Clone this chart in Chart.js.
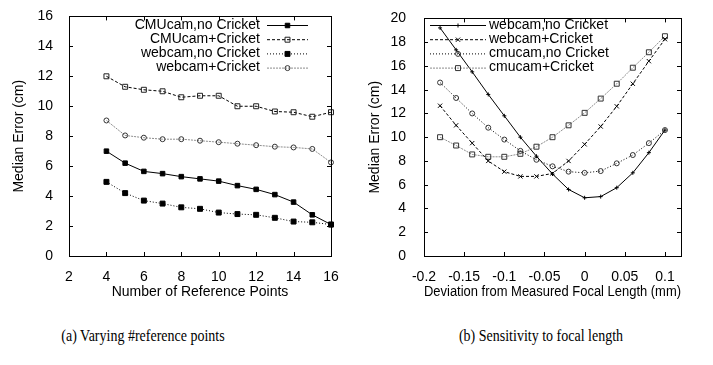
<!DOCTYPE html>
<html>
<head>
<meta charset="utf-8">
<script src="https://cdn.jsdelivr.net/npm/chart.js@4.4.1/dist/chart.umd.min.js"></script>
<style>
  html, body { margin: 0; padding: 0; background: #fff; }
  body { width: 713px; height: 365px; position: relative; overflow: hidden; }
  .wrap { position: absolute; top: 0; }
  .cap { position: absolute; top: 329px; font-family: 'Liberation Serif', 'Times New Roman', serif; font-size: 14px; color: #000; white-space: nowrap; transform: translateX(-50%) scaleY(1.12); }
</style>
</head>
<body>
<div class="wrap" style="left:0px;width:356px;height:310px;"><canvas id="c1" width="356" height="310"></canvas></div>
<div class="wrap" style="left:356px;width:357px;height:310px;"><canvas id="c2" width="357" height="310"></canvas></div>
<div class="cap" style="left:143px;">(a) Varying #reference points</div>
<div class="cap" style="left:541px;">(b) Sensitivity to focal length</div>
<script>
// ---- Data: chart (a) ----
const refPoints = [4, 5, 6, 7, 8, 9, 10, 11, 12, 13, 14, 15, 16];
const cmuNoCricket = [7.0, 6.2, 5.65, 5.5, 5.3, 5.15, 5.0, 4.7, 4.45, 4.1, 3.6, 2.75, 2.1];
const cmuCricket = [12.0, 11.3, 11.1, 11.0, 10.6, 10.7, 10.7, 10.0, 10.0, 9.65, 9.6, 9.3, 9.6];
const webNoCricket = [4.95, 4.2, 3.7, 3.5, 3.25, 3.15, 2.9, 2.8, 2.75, 2.55, 2.3, 2.25, 2.1];
const webCricket = [9.05, 8.05, 7.9, 7.8, 7.8, 7.7, 7.6, 7.5, 7.4, 7.3, 7.25, 7.15, 6.25];
const aXTicks = [2, 4, 6, 8, 10, 12, 14, 16];
const aYTicks = [0, 2, 4, 6, 8, 10, 12, 14, 16];

// ---- Data: chart (b) ----
const focalDev = [-0.18, -0.16, -0.14, -0.12, -0.10, -0.08, -0.06, -0.04, -0.02, 0, 0.02, 0.04, 0.06, 0.08, 0.10];
const fWebNoCricket = [19.2, 17.35, 15.5, 13.6, 11.8, 10.0, 8.4, 6.9, 5.6, 4.9, 5.0, 5.75, 7.0, 8.7, 10.6];
const fWebCricket = [12.65, 11.0, 9.5, 8.0, 7.1, 6.7, 6.7, 6.95, 8.0, 9.4, 10.9, 12.6, 14.5, 16.4, 18.25];
const fCmuNoCricket = [14.6, 13.3, 12.0, 10.8, 9.8, 8.85, 8.1, 7.55, 7.1, 7.0, 7.15, 7.8, 8.5, 9.5, 10.6];
const fCmuCricket = [10.0, 9.3, 8.55, 8.35, 8.35, 8.6, 9.2, 10.0, 11.0, 12.05, 13.25, 14.5, 15.85, 17.15, 18.5];
const bXTicks = [-0.2, -0.15, -0.1, -0.05, 0, 0.05, 0.1];
const bYTicks = [0, 2, 4, 6, 8, 10, 12, 14, 16, 18, 20];

Chart.defaults.font.family = "'Liberation Sans', Arial, Helvetica, sans-serif";
Chart.defaults.font.size = 14;
Chart.defaults.color = '#000';

function pts(xs, ys) { return xs.map((x, i) => ({ x: x, y: ys[i] })); }

// frame + inward ticks
const framePlugin = {
  id: 'frame',
  afterDatasetsDraw(chart) {
    const { ctx, chartArea: a, scales } = chart;
    ctx.save();
    ctx.strokeStyle = '#000';
    ctx.lineWidth = 1;
    ctx.setLineDash([]);
    ctx.strokeRect(Math.round(a.left) + 0.5, Math.round(a.top) + 0.5, Math.round(a.right - a.left), Math.round(a.bottom - a.top));
    const L = 4;
    ctx.beginPath();
    scales.x.ticks.forEach(t => {
      const px = Math.round(scales.x.getPixelForValue(t.value)) + 0.5;
      ctx.moveTo(px, a.bottom); ctx.lineTo(px, a.bottom - L);
      ctx.moveTo(px, a.top); ctx.lineTo(px, a.top + L);
    });
    scales.y.ticks.forEach(t => {
      const py = Math.round(scales.y.getPixelForValue(t.value)) + 0.5;
      ctx.moveTo(a.left, py); ctx.lineTo(a.left + L, py);
      ctx.moveTo(a.right, py); ctx.lineTo(a.right - L, py);
    });
    ctx.stroke();
    ctx.restore();
  }
};

// gnuplot-style legend
const keyPlugin = {
  id: 'gkey',
  afterDatasetsDraw(chart, args, opts) {
    const { ctx } = chart;
    ctx.save();
    ctx.font = "14px 'Liberation Sans', Arial, sans-serif";
    ctx.textBaseline = 'middle';
    chart.data.datasets.forEach((ds, i) => {
      const y = opts.y0 + i * opts.dy;
      ctx.fillStyle = '#000';
      ctx.textAlign = opts.textAlign;
      ctx.fillText(ds.label, opts.textX, y);
      ctx.strokeStyle = ds.borderColor;
      ctx.lineWidth = ds.borderWidth;
      ctx.setLineDash(ds.borderDash || []);
      ctx.beginPath();
      ctx.moveTo(opts.lineX0, y + 0.5); ctx.lineTo(opts.lineX1, y + 0.5);
      ctx.stroke();
      ctx.setLineDash([]);
      ctx.strokeStyle = ds.pointBorderColor;
      ctx.fillStyle = ds.pointBackgroundColor;
      ctx.lineWidth = 1;
      Chart.helpers.drawPoint(ctx, { pointStyle: ds.pointStyle, radius: ds.pointRadius, rotation: 0, borderWidth: 1 }, (opts.lineX0 + opts.lineX1) / 2, y + 0.5);
    });
    ctx.restore();
  }
};

function mkScales(xmin, xmax, ymin, ymax, xTicks, yTicks, xTitle, yTitle, yW, yPad, fmt) {
  return {
    x: {
      type: 'linear', min: xmin, max: xmax,
      grid: { display: false }, border: { display: false },
      afterBuildTicks: s => { s.ticks = xTicks.map(v => ({ value: v })); },
      afterFit: s => { s.height = 54; },
      ticks: { padding: 5, autoSkip: false, maxRotation: 0, callback: fmt },
      title: { display: true, text: xTitle, padding: { top: 0, bottom: 9.6 }, font: { size: 14 } }
    },
    y: {
      type: 'linear', min: ymin, max: ymax,
      grid: { display: false }, border: { display: false },
      afterBuildTicks: s => { s.ticks = yTicks.map(v => ({ value: v })); },
      afterFit: s => { s.width = yW; },
      ticks: { padding: yPad },
      title: { display: true, text: yTitle, padding: { top: 10.6, bottom: 0 }, font: { size: 14 } }
    }
  };
}

const black = '#000';
const gray = '#8c8c8c';

new Chart(document.getElementById('c1'), {
  type: 'line',
  data: {
    datasets: [
      { label: 'CMUcam,no Cricket', data: pts(refPoints, cmuNoCricket), borderColor: black, borderWidth: 1, borderDash: [],
        pointStyle: 'rect', pointRadius: 3.2, pointBackgroundColor: black, pointBorderColor: black, pointBorderWidth: 1 },
      { label: 'CMUcam+Cricket', data: pts(refPoints, cmuCricket), borderColor: black, borderWidth: 1, borderDash: [3, 2],
        pointStyle: 'rect', pointRadius: 3.5, pointBackgroundColor: 'rgba(0,0,0,0)', pointBorderColor: '#222', pointBorderWidth: 1 },
      { label: 'webcam,no Cricket', data: pts(refPoints, webNoCricket), borderColor: black, borderWidth: 1, borderDash: [1, 2],
        pointStyle: 'rect', pointRadius: 3.5, pointBackgroundColor: black, pointBorderColor: black, pointBorderWidth: 1 },
      { label: 'webcam+Cricket', data: pts(refPoints, webCricket), borderColor: gray, borderWidth: 1, borderDash: [2, 1],
        pointStyle: 'circle', pointRadius: 2.5, pointBackgroundColor: 'rgba(0,0,0,0)', pointBorderColor: '#333', pointBorderWidth: 1 }
    ]
  },
  options: {
    responsive: false, animation: false, devicePixelRatio: 1,
    layout: { padding: { left: 0, right: 25, top: 15, bottom: 0 } },
    elements: { line: { tension: 0, fill: false } },
    datasets: { line: { clip: false } },
    scales: mkScales(2, 16, 0, 16, aXTicks, aYTicks, 'Number of Reference Points', 'Median Error (cm)', 69, 8, v => String(v)),
    plugins: {
      legend: { display: false }, tooltip: { enabled: false },
      gkey: { y0: 25, dy: 14.2, textAlign: 'right', textX: 260, lineX0: 267, lineX1: 308 }
    }
  },
  plugins: [framePlugin, keyPlugin]
});

new Chart(document.getElementById('c2'), {
  type: 'line',
  data: {
    datasets: [
      { label: 'webcam,no Cricket', data: pts(focalDev, fWebNoCricket), borderColor: black, borderWidth: 1, borderDash: [],
        pointStyle: 'cross', pointRadius: 2, pointBackgroundColor: black, pointBorderColor: black, pointBorderWidth: 1 },
      { label: 'webcam+Cricket', data: pts(focalDev, fWebCricket), borderColor: black, borderWidth: 1, borderDash: [3, 2],
        pointStyle: 'crossRot', pointRadius: 3, pointBackgroundColor: black, pointBorderColor: black, pointBorderWidth: 1 },
      { label: 'cmucam,no Cricket', data: pts(focalDev, fCmuNoCricket), borderColor: black, borderWidth: 1, borderDash: [1, 2],
        pointStyle: 'circle', pointRadius: 2.5, pointBackgroundColor: 'rgba(0,0,0,0)', pointBorderColor: '#333', pointBorderWidth: 1 },
      { label: 'cmucam+Cricket', data: pts(focalDev, fCmuCricket), borderColor: gray, borderWidth: 1, borderDash: [2, 1],
        pointStyle: 'rect', pointRadius: 3.5, pointBackgroundColor: 'rgba(0,0,0,0)', pointBorderColor: '#333', pointBorderWidth: 1 }
    ]
  },
  options: {
    responsive: false, animation: false, devicePixelRatio: 1,
    layout: { padding: { left: 0, right: 32, top: 14, bottom: 0 } },
    elements: { line: { tension: 0, fill: false } },
    datasets: { line: { clip: false } },
    scales: mkScales(-0.2, 0.12, 0, 20, bXTicks, bYTicks, 'Deviation from Measured Focal Length (mm)', 'Median Error (cm)', 68, 10,
      v => String(Number(Number(v).toFixed(2)))),
    plugins: {
      legend: { display: false }, tooltip: { enabled: false },
      gkey: { y0: 25, dy: 14.2, textAlign: 'left', textX: 133, lineX0: 74, lineX1: 130 }
    }
  },
  plugins: [framePlugin, keyPlugin]
});
</script>
</body>
</html>
